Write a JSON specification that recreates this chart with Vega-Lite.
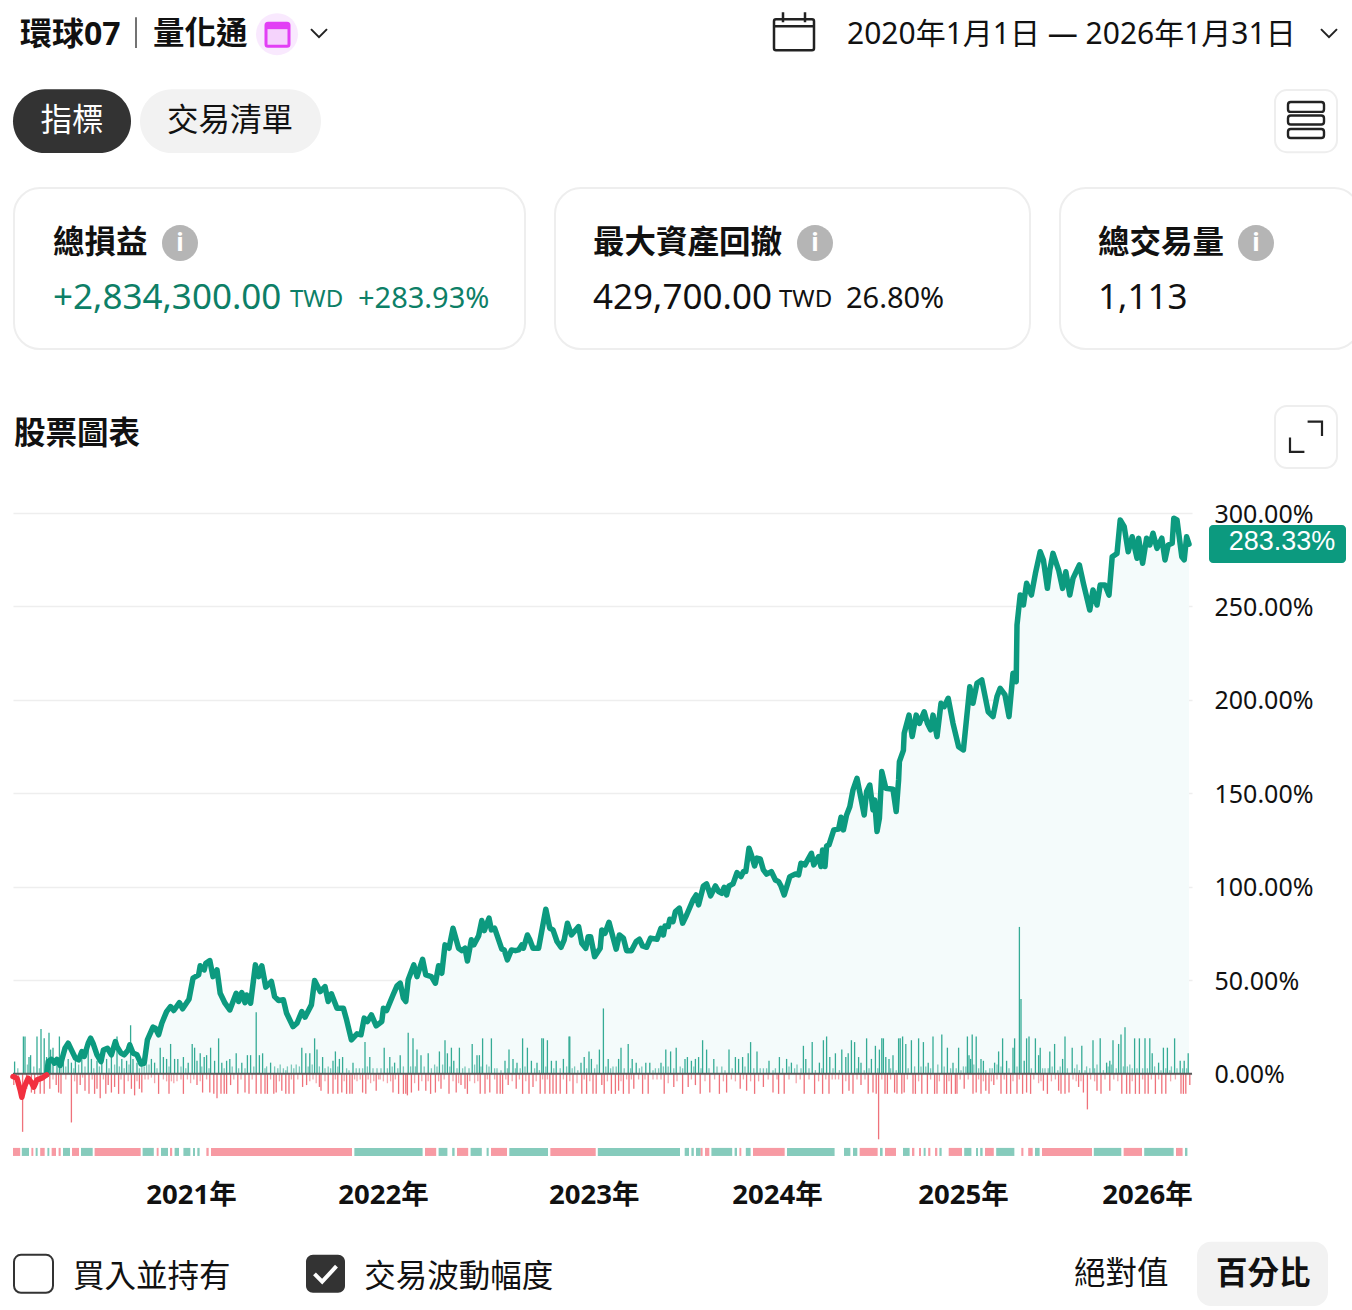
{
"$schema":"https://vega.github.io/schema/vega-lite/v6.json",
"autosize":"none",
"padding":{"left":13,"top":513,"right":160,"bottom":152},
"width":1179,"height":645,
"background":"white",
"config":{"view":{"stroke":null},"text":{"font":"Noto Sans, Noto Sans CJK TC","color":"#111111","align":"left","baseline":"middle"}},
"datasets":{
"equity":[{"s":0,"pct":-1.4},{"s":5,"pct":-2.3},{"s":9,"pct":-8.6},{"s":11,"pct":-12.5},{"s":14,"pct":-7.1},{"s":19,"pct":-2.3},{"s":23,"pct":-4.6},{"s":26,"pct":-7.1},{"s":30,"pct":-3.2},{"s":36,"pct":-2.3},{"s":42,"pct":-0.5},{"s":44,"pct":6.6},{"s":48,"pct":7.8},{"s":52,"pct":5.7},{"s":55,"pct":7.8},{"s":59,"pct":4.5},{"s":65,"pct":13.7},{"s":69,"pct":16.4},{"s":73,"pct":12.8},{"s":78,"pct":8.4},{"s":82,"pct":7.5},{"s":86,"pct":11.9},{"s":89,"pct":9.3},{"s":94,"pct":16.4},{"s":97,"pct":19.1},{"s":100,"pct":16.4},{"s":105,"pct":10.2},{"s":110,"pct":6.6},{"s":113,"pct":12.8},{"s":118,"pct":13.7},{"s":123,"pct":10.2},{"s":128,"pct":17.3},{"s":130,"pct":14.6},{"s":135,"pct":11.1},{"s":139,"pct":10.2},{"s":144,"pct":12.8},{"s":146,"pct":15.5},{"s":150,"pct":11.1},{"s":155,"pct":10.2},{"s":160,"pct":5.3},{"s":164,"pct":5.7},{"s":168,"pct":18.2},{"s":175,"pct":25},{"s":178,"pct":24.4},{"s":182,"pct":20.9},{"s":186,"pct":27.1},{"s":192,"pct":33.3},{"s":197,"pct":36},{"s":201,"pct":33.9},{"s":208,"pct":38.1},{"s":212,"pct":34.8},{"s":220,"pct":39.9},{"s":225,"pct":51.2},{"s":232,"pct":52.9},{"s":234,"pct":57.8},{"s":239,"pct":55.6},{"s":241,"pct":59.2},{"s":246,"pct":60.6},{"s":250,"pct":52},{"s":255,"pct":55.6},{"s":259,"pct":43.1},{"s":265,"pct":37.8},{"s":271,"pct":34.2},{"s":279,"pct":43.1},{"s":282,"pct":38.7},{"s":286,"pct":43.5},{"s":290,"pct":38.1},{"s":292,"pct":42.2},{"s":297,"pct":37.8},{"s":303,"pct":58.3},{"s":307,"pct":52},{"s":311,"pct":57.8},{"s":316,"pct":46.4},{"s":323,"pct":49.4},{"s":327,"pct":41.3},{"s":332,"pct":39.2},{"s":338,"pct":39.6},{"s":342,"pct":32.4},{"s":350,"pct":25.3},{"s":355,"pct":27.1},{"s":361,"pct":33.3},{"s":365,"pct":30.3},{"s":373,"pct":36.9},{"s":377,"pct":49.9},{"s":384,"pct":44},{"s":390,"pct":46.7},{"s":394,"pct":38.7},{"s":398,"pct":42.8},{"s":405,"pct":35.1},{"s":413,"pct":35.1},{"s":417,"pct":28.9},{"s":423,"pct":18.2},{"s":430,"pct":21.4},{"s":435,"pct":20.9},{"s":439,"pct":29.8},{"s":443,"pct":28},{"s":448,"pct":31.6},{"s":454,"pct":25.7},{"s":461,"pct":28},{"s":463,"pct":35.1},{"s":467,"pct":33.9},{"s":475,"pct":42.2},{"s":480,"pct":47.1},{"s":484,"pct":48.5},{"s":488,"pct":40.5},{"s":491,"pct":38.7},{"s":494,"pct":50.3},{"s":501,"pct":58.3},{"s":505,"pct":52},{"s":512,"pct":61.3},{"s":516,"pct":52.9},{"s":523,"pct":52},{"s":528,"pct":48.5},{"s":532,"pct":57.8},{"s":536,"pct":53.8},{"s":540,"pct":69},{"s":545,"pct":67.2},{"s":550,"pct":77.9},{"s":557,"pct":67.2},{"s":561,"pct":65.9},{"s":565,"pct":67.2},{"s":568,"pct":60.4},{"s":573,"pct":71.7},{"s":576,"pct":69},{"s":582,"pct":73.8},{"s":586,"pct":82},{"s":589,"pct":76.6},{"s":595,"pct":83.3},{"s":598,"pct":77},{"s":602,"pct":77.9},{"s":611,"pct":66.7},{"s":614,"pct":66.3},{"s":618,"pct":61},{"s":623,"pct":66.3},{"s":628,"pct":65.9},{"s":632,"pct":66.3},{"s":636,"pct":69},{"s":638,"pct":67.2},{"s":643,"pct":74.3},{"s":646,"pct":71.7},{"s":650,"pct":67.2},{"s":657,"pct":67.2},{"s":662,"pct":78.8},{"s":666,"pct":88.1},{"s":671,"pct":77.9},{"s":675,"pct":77},{"s":680,"pct":70.8},{"s":685,"pct":67.7},{"s":689,"pct":71.7},{"s":693,"pct":80.6},{"s":698,"pct":74.3},{"s":707,"pct":78.8},{"s":711,"pct":69.9},{"s":716,"pct":67.2},{"s":719,"pct":73.4},{"s":722,"pct":73.4},{"s":727,"pct":62.7},{"s":734,"pct":67.2},{"s":736,"pct":77},{"s":740,"pct":75.2},{"s":745,"pct":81.1},{"s":754,"pct":66.7},{"s":758,"pct":74.3},{"s":763,"pct":72.6},{"s":767,"pct":65.9},{"s":773,"pct":65.9},{"s":779,"pct":70.8},{"s":783,"pct":72},{"s":787,"pct":68.4},{"s":792,"pct":67.7},{"s":797,"pct":72.6},{"s":805,"pct":72},{"s":810,"pct":77.9},{"s":813,"pct":74.3},{"s":815,"pct":79.1},{"s":819,"pct":78.8},{"s":821,"pct":82.7},{"s":825,"pct":81.4},{"s":828,"pct":86.8},{"s":833,"pct":88.6},{"s":837,"pct":80.6},{"s":842,"pct":85},{"s":850,"pct":93},{"s":854,"pct":95.7},{"s":857,"pct":90.4},{"s":863,"pct":100.5},{"s":867,"pct":101.6},{"s":872,"pct":95.2},{"s":878,"pct":100.5},{"s":882,"pct":97.5},{"s":886,"pct":96.6},{"s":889,"pct":99.8},{"s":892,"pct":95.7},{"s":895,"pct":100.5},{"s":900,"pct":101.6},{"s":905,"pct":107.6},{"s":910,"pct":105.5},{"s":913,"pct":108.2},{"s":916,"pct":108.2},{"s":920,"pct":120.7},{"s":923,"pct":117.1},{"s":927,"pct":111.2},{"s":930,"pct":115.4},{"s":934,"pct":115},{"s":938,"pct":109.1},{"s":942,"pct":106.8},{"s":948,"pct":108.2},{"s":953,"pct":103.7},{"s":957,"pct":102.8},{"s":960,"pct":100.5},{"s":964,"pct":95.7},{"s":971,"pct":105.5},{"s":978,"pct":106.9},{"s":982,"pct":106.4},{"s":985,"pct":112.7},{"s":990,"pct":111.8},{"s":998,"pct":118},{"s":1001,"pct":111.8},{"s":1007,"pct":116.2},{"s":1010,"pct":110.9},{"s":1012,"pct":119.8},{"s":1015,"pct":110.9},{"s":1017,"pct":121.9},{"s":1020,"pct":122.5},{"s":1026,"pct":130.5},{"s":1032,"pct":130.9},{"s":1035,"pct":137.3},{"s":1038,"pct":130.5},{"s":1042,"pct":138.5},{"s":1046,"pct":142.9},{"s":1050,"pct":151.9},{"s":1055,"pct":158.1},{"s":1064,"pct":138.5},{"s":1067,"pct":151},{"s":1071,"pct":154.5},{"s":1075,"pct":141.2},{"s":1077,"pct":146.5},{"s":1080,"pct":129.6},{"s":1083,"pct":136.7},{"s":1086,"pct":161.7},{"s":1091,"pct":152.8},{"s":1100,"pct":152.2},{"s":1104,"pct":140.3},{"s":1107,"pct":157.2},{"s":1108,"pct":167},{"s":1113,"pct":173},{"s":1114,"pct":182.2},{"s":1120,"pct":191.9},{"s":1124,"pct":180.4},{"s":1129,"pct":191.9},{"s":1133,"pct":187.5},{"s":1139,"pct":193.7},{"s":1143,"pct":187.5},{"s":1147,"pct":184},{"s":1150,"pct":191.9},{"s":1155,"pct":180.4},{"s":1160,"pct":198.2},{"s":1164,"pct":196.4},{"s":1169,"pct":200.9},{"s":1175,"pct":187.5},{"s":1182,"pct":175},{"s":1188,"pct":173.3},{"s":1196,"pct":207.1},{"s":1200,"pct":198.2},{"s":1205,"pct":208.9},{"s":1211,"pct":210.7},{"s":1219,"pct":193.7},{"s":1225,"pct":191.1},{"s":1230,"pct":201.8},{"s":1234,"pct":206.2},{"s":1240,"pct":202.7},{"s":1245,"pct":191.1},{"s":1250,"pct":214.3},{"s":1254,"pct":209.8},{"s":1255,"pct":240.1},{"s":1259,"pct":256.1},{"s":1263,"pct":250.8},{"s":1267,"pct":262.4},{"s":1273,"pct":256.1},{"s":1278,"pct":267.7},{"s":1284,"pct":279.3},{"s":1288,"pct":274.9},{"s":1293,"pct":259.7},{"s":1296,"pct":269.5},{"s":1300,"pct":278.4},{"s":1307,"pct":269.5},{"s":1312,"pct":259.7},{"s":1316,"pct":268.6},{"s":1321,"pct":256.1},{"s":1325,"pct":265},{"s":1333,"pct":272.2},{"s":1338,"pct":262.4},{"s":1346,"pct":248.1},{"s":1350,"pct":258.8},{"s":1355,"pct":250.8},{"s":1359,"pct":261.5},{"s":1365,"pct":261.5},{"s":1370,"pct":256.1},{"s":1374,"pct":276.6},{"s":1380,"pct":278.4},{"s":1384,"pct":296.3},{"s":1389,"pct":292.7},{"s":1394,"pct":279.3},{"s":1399,"pct":287.3},{"s":1405,"pct":275.8},{"s":1407,"pct":286.5},{"s":1412,"pct":273.1},{"s":1417,"pct":286.5},{"s":1421,"pct":282.9},{"s":1425,"pct":289.2},{"s":1430,"pct":281.1},{"s":1436,"pct":286.5},{"s":1440,"pct":274.9},{"s":1444,"pct":282.9},{"s":1449,"pct":283.8},{"s":1451,"pct":297.2},{"s":1455,"pct":296.3},{"s":1461,"pct":276.6},{"s":1464,"pct":274.9},{"s":1467,"pct":287.3},{"s":1470,"pct":283.33}],
"trades":[{"s":2,"p":6.6},{"s":13,"p":20},{"s":15,"p":20},{"s":18,"p":5},{"s":20,"p":9},{"s":22,"p":10},{"s":30,"p":20},{"s":35,"p":24},{"s":39,"p":19},{"s":42,"p":9},{"s":45,"p":22},{"s":47,"p":13},{"s":50,"p":14},{"s":55,"p":8},{"s":58,"p":20},{"s":63,"p":12},{"s":69,"p":8},{"s":73,"p":6},{"s":78,"p":7},{"s":82,"p":5},{"s":86,"p":9},{"s":94,"p":15},{"s":98,"p":8},{"s":105,"p":7},{"s":111,"p":9},{"s":117,"p":8},{"s":123,"p":12},{"s":130,"p":20},{"s":136,"p":8},{"s":142,"p":7},{"s":147,"p":26},{"s":150,"p":8},{"s":155,"p":6},{"s":161,"p":5},{"s":167,"p":5},{"s":173,"p":8},{"s":177,"p":6},{"s":184,"p":14},{"s":188,"p":9},{"s":192,"p":8},{"s":197,"p":16},{"s":202,"p":8},{"s":206,"p":8},{"s":213,"p":9},{"s":219,"p":6},{"s":224,"p":16},{"s":227,"p":14},{"s":230,"p":7},{"s":234,"p":11},{"s":239,"p":9},{"s":242,"p":10},{"s":247,"p":14},{"s":252,"p":7},{"s":257,"p":19},{"s":261,"p":6},{"s":267,"p":7},{"s":271,"p":8},{"s":279,"p":11},{"s":286,"p":6},{"s":293,"p":10},{"s":297,"p":10},{"s":304,"p":33},{"s":308,"p":10},{"s":312,"p":11},{"s":317,"p":4},{"s":322,"p":6},{"s":327,"p":4},{"s":334,"p":5},{"s":338,"p":3},{"s":343,"p":4},{"s":348,"p":5},{"s":354,"p":5},
{"s":361,"p":14},{"s":366,"p":11},{"s":371,"p":11},{"s":377,"p":19},{"s":380,"p":13},{"s":387,"p":9},{"s":394,"p":4},{"s":400,"p":7},{"s":403,"p":12},{"s":408,"p":8},{"s":412,"p":9},{"s":417,"p":3},{"s":425,"p":6},{"s":433,"p":3},{"s":440,"p":17},{"s":446,"p":9},{"s":455,"p":3},{"s":464,"p":14},{"s":471,"p":9},{"s":477,"p":6},{"s":484,"p":10},{"s":494,"p":22},{"s":500,"p":19},{"s":505,"p":13},{"s":510,"p":10},{"s":519,"p":11},{"s":527,"p":5},{"s":533,"p":12},{"s":540,"p":18},{"s":543,"p":11},{"s":548,"p":14},{"s":551,"p":7},{"s":558,"p":14},{"s":565,"p":4},{"s":574,"p":16},{"s":580,"p":10},{"s":583,"p":10},{"s":587,"p":19},{"s":592,"p":5},{"s":598,"p":19},{"s":605,"p":3},{"s":615,"p":7},{"s":620,"p":13},{"s":625,"p":8},{"s":630,"p":6},{"s":637,"p":19},{"s":643,"p":14},{"s":648,"p":7},{"s":655,"p":6},{"s":661,"p":19},{"s":663,"p":19},{"s":668,"p":18},{"s":673,"p":7},{"s":679,"p":7},{"s":688,"p":8},{"s":695,"p":20},{"s":696,"p":20},{"s":702,"p":4},{"s":710,"p":6},{"s":714,"p":9},{"s":720,"p":12},{"s":723,"p":8},{"s":730,"p":5},{"s":733,"p":13},
{"s":738,"p":35},{"s":744,"p":8},{"s":750,"p":4},{"s":757,"p":8},{"s":760,"p":14},{"s":769,"p":16},{"s":774,"p":8},{"s":779,"p":6},{"s":786,"p":4},{"s":791,"p":6},{"s":796,"p":6},{"s":803,"p":3},{"s":810,"p":6},{"s":816,"p":13},{"s":822,"p":12},{"s":829,"p":14},{"s":834,"p":4},{"s":840,"p":8},{"s":843,"p":9},{"s":848,"p":7},{"s":853,"p":8},{"s":857,"p":9},{"s":862,"p":18},{"s":867,"p":13},{"s":876,"p":8},{"s":886,"p":4},{"s":895,"p":13},{"s":903,"p":9},{"s":907,"p":8},{"s":912,"p":9},{"s":919,"p":11},{"s":922,"p":17},{"s":930,"p":12},{"s":938,"p":3},{"s":945,"p":7},{"s":953,"p":3},{"s":958,"p":9},{"s":967,"p":8},{"s":973,"p":6},{"s":980,"p":5},{"s":988,"p":15},{"s":991,"p":8},{"s":999,"p":17},{"s":1008,"p":6},{"s":1013,"p":18},{"s":1017,"p":20},{"s":1021,"p":9},{"s":1028,"p":11},{"s":1036,"p":13},{"s":1041,"p":9},{"s":1044,"p":11},{"s":1048,"p":18},{"s":1052,"p":17},{"s":1057,"p":9},{"s":1060,"p":6},{"s":1067,"p":19},{"s":1073,"p":8},{"s":1078,"p":15},{"s":1083,"p":13},{"s":1086,"p":19},{"s":1088,"p":19},{"s":1091,"p":9},{"s":1095,"p":8},{"s":1100,"p":10},{"s":1107,"p":19},
{"s":1109,"p":19},{"s":1112,"p":20},{"s":1116,"p":16},{"s":1123,"p":18},{"s":1132,"p":19},{"s":1138,"p":17},{"s":1144,"p":6},{"s":1150,"p":20},{"s":1161,"p":21},{"s":1168,"p":14},{"s":1175,"p":6},{"s":1182,"p":14},{"s":1188,"p":4},{"s":1193,"p":20},{"s":1195,"p":10},{"s":1199,"p":21},{"s":1204,"p":20},{"s":1210,"p":8},{"s":1213,"p":7},{"s":1221,"p":3},{"s":1227,"p":6},{"s":1232,"p":12},{"s":1237,"p":19},{"s":1242,"p":7},{"s":1250,"p":14},{"s":1252,"p":19},{"s":1258,"p":78.6},{"s":1260,"p":40},{"s":1264,"p":7},{"s":1267,"p":19},{"s":1270,"p":20},{"s":1278,"p":19},{"s":1282,"p":10},{"s":1284,"p":14},{"s":1290,"p":3},{"s":1296,"p":12},{"s":1302,"p":16},{"s":1309,"p":4},{"s":1312,"p":8},{"s":1315,"p":20},{"s":1324,"p":14},{"s":1330,"p":5},{"s":1336,"p":15},{"s":1342,"p":4},{"s":1350,"p":18},{"s":1355,"p":5},{"s":1359,"p":19},{"s":1367,"p":6},{"s":1371,"p":7},{"s":1375,"p":18},{"s":1382,"p":16},{"s":1385,"p":21},{"s":1390,"p":25},{"s":1396,"p":5},{"s":1402,"p":19},{"s":1408,"p":19},{"s":1415,"p":19},{"s":1421,"p":19},{"s":1424,"p":11},{"s":1432,"p":6},{"s":1438,"p":14},{"s":1443,"p":14},{"s":1448,"p":4},{"s":1452,"p":19},{"s":1459,"p":7},{"s":1464,"p":7},{"s":1469,"p":11},
{"s":1,"p":-6},{"s":7,"p":-4},{"s":12,"p":-31},{"s":17,"p":-8},{"s":23,"p":-10},{"s":27,"p":-10.7},{"s":34,"p":-10.7},{"s":39,"p":-10.7},{"s":46,"p":-8},{"s":54,"p":-6},{"s":57,"p":-10},{"s":60,"p":-10.7},{"s":73,"p":-26},{"s":80,"p":-10.7},{"s":84,"p":-6},{"s":90,"p":-9},{"s":95,"p":-10.7},{"s":102,"p":-10.7},{"s":105,"p":-8},{"s":109,"p":-13},{"s":116,"p":-10.7},{"s":119,"p":-6},{"s":123,"p":-10},{"s":127,"p":-7},{"s":132,"p":-10.7},{"s":139,"p":-10.7},{"s":144,"p":-4},{"s":148,"p":-8},{"s":152,"p":-11.5},{"s":158,"p":-8},{"s":161,"p":-10},{"s":169,"p":-3},{"s":177,"p":-5},{"s":182,"p":-10.7},{"s":188,"p":-3},{"s":195,"p":-10.7},{"s":201,"p":-5},{"s":205,"p":-4},{"s":213,"p":-10.7},{"s":222,"p":-5},{"s":230,"p":-6},{"s":237,"p":-10},{"s":246,"p":-10},{"s":251,"p":-10.7},{"s":255,"p":-13},{"s":260,"p":-10.7},{"s":264,"p":-10.7},{"s":267,"p":-10.7},{"s":272,"p":-6},{"s":281,"p":-10.7},{"s":290,"p":-10},{"s":295,"p":-10.7},{"s":304,"p":-10.7},{"s":310,"p":-10.7},{"s":315,"p":-10.7},{"s":318,"p":-10.7},{"s":326,"p":-10.7},{"s":329,"p":-10},{"s":336,"p":-9},{"s":341,"p":-10.7},{"s":345,"p":-10.7},{"s":351,"p":-10.7},
{"s":362,"p":-7},{"s":367,"p":-6},{"s":375,"p":-3},{"s":383,"p":-7},{"s":385,"p":-9},{"s":394,"p":-10.7},{"s":400,"p":-10.7},{"s":406,"p":-10.7},{"s":411,"p":-10},{"s":417,"p":-10.7},{"s":421,"p":-10.7},{"s":424,"p":-10.7},{"s":430,"p":-4},{"s":437,"p":-10},{"s":441,"p":-10.7},{"s":447,"p":-5},{"s":454,"p":-9},{"s":459,"p":-3},{"s":468,"p":-5},{"s":475,"p":-10},{"s":482,"p":-10.7},{"s":488,"p":-10.7},{"s":491,"p":-10.7},{"s":493,"p":-11.5},{"s":498,"p":-10},{"s":507,"p":-9},{"s":516,"p":-9},{"s":522,"p":-10.7},{"s":528,"p":-10},{"s":535,"p":-8},{"s":545,"p":-10.7},{"s":554,"p":-10},{"s":560,"p":-6},{"s":565,"p":-8},{"s":568,"p":-10.7},{"s":577,"p":-5},{"s":584,"p":-10.7},{"s":590,"p":-10.7},{"s":596,"p":-10},{"s":605,"p":-10.7},{"s":609,"p":-10.7},{"s":612,"p":-10.7},{"s":619,"p":-6},{"s":629,"p":-8},{"s":637,"p":-10.7},{"s":645,"p":-10.7},{"s":650,"p":-7},{"s":659,"p":-10.7},{"s":665,"p":-10.7},{"s":671,"p":-10.7},{"s":675,"p":-10.7},{"s":679,"p":-10.7},{"s":684,"p":-10.7},{"s":692,"p":-10.7},{"s":700,"p":-10.7},{"s":711,"p":-10.7},{"s":717,"p":-10.7},{"s":725,"p":-10.7},{"s":729,"p":-10.7},
{"s":736,"p":-6},{"s":739,"p":-10.7},{"s":748,"p":-10.7},{"s":753,"p":-10.7},{"s":757,"p":-9},{"s":763,"p":-10.7},{"s":770,"p":-10.7},{"s":776,"p":-8},{"s":787,"p":-10.7},{"s":794,"p":-10.7},{"s":805,"p":-3},{"s":814,"p":-10.7},{"s":819,"p":-5},{"s":826,"p":-7},{"s":837,"p":-10.7},{"s":844,"p":-7},{"s":853,"p":-6},{"s":859,"p":-10.7},{"s":871,"p":-10},{"s":883,"p":-10.7},{"s":892,"p":-10},{"s":898,"p":-3},{"s":909,"p":-8},{"s":917,"p":-9},{"s":927,"p":-10.7},{"s":938,"p":-7},{"s":950,"p":-10},{"s":957,"p":-10.7},{"s":964,"p":-10.7},{"s":979,"p":-5},{"s":989,"p":-10.7},{"s":1002,"p":-10.7},{"s":1012,"p":-10.7},{"s":1020,"p":-10.7},{"s":1028,"p":-3},{"s":1037,"p":-10.7},{"s":1045,"p":-9},{"s":1050,"p":-10.7},{"s":1060,"p":-6},{"s":1069,"p":-10.7},{"s":1075,"p":-10},{"s":1079,"p":-10.7},{"s":1082,"p":-35},{"s":1090,"p":-10.7},{"s":1093,"p":-10.7},{"s":1102,"p":-10},{"s":1105,"p":-10.7},
{"s":1111,"p":-10.7},{"s":1114,"p":-10},{"s":1125,"p":-10.7},{"s":1128,"p":-10.7},{"s":1136,"p":-10.7},{"s":1143,"p":-10.7},{"s":1152,"p":-10.7},{"s":1155,"p":-10.7},{"s":1164,"p":-10.7},{"s":1167,"p":-10.7},{"s":1173,"p":-10.7},{"s":1178,"p":-10.7},{"s":1180,"p":-10.7},{"s":1189,"p":-8},{"s":1200,"p":-10.7},{"s":1204,"p":-10},{"s":1210,"p":-10.7},{"s":1216,"p":-9},{"s":1220,"p":-10.7},{"s":1226,"p":-6},{"s":1235,"p":-10.7},{"s":1242,"p":-10.7},{"s":1247,"p":-10.7},{"s":1255,"p":-10.7},{"s":1262,"p":-10.7},{"s":1267,"p":-10},{"s":1272,"p":-10.7},{"s":1282,"p":-5},{"s":1288,"p":-9},{"s":1293,"p":-10.7},{"s":1307,"p":-9},{"s":1310,"p":-10.7},{"s":1315,"p":-10.7},{"s":1320,"p":-10},{"s":1332,"p":-7},{"s":1338,"p":-10},{"s":1343,"p":-19},{"s":1355,"p":-9},{"s":1360,"p":-10.7},{"s":1371,"p":-9},{"s":1386,"p":-10.7},{"s":1392,"p":-10.7},{"s":1396,"p":-10.7},{"s":1403,"p":-10.7},{"s":1408,"p":-10.7},{"s":1415,"p":-10.7},{"s":1419,"p":-10.7},{"s":1428,"p":-10.7},{"s":1436,"p":-10.7},{"s":1441,"p":-10.7},{"s":1460,"p":-10.7},{"s":1463,"p":-10.7},{"s":1466,"p":-10.7},{"s":1471,"p":-6},
{"s":6,"p":3},{"s":26,"p":4},{"s":33,"p":3},{"s":60,"p":5},{"s":66,"p":4},{"s":76,"p":3},{"s":90,"p":4},{"s":101,"p":3},{"s":108,"p":4},{"s":120,"p":3},{"s":127,"p":5},{"s":133,"p":4},{"s":139,"p":3},{"s":145,"p":5},{"s":158,"p":3},{"s":164,"p":4},{"s":170,"p":5},{"s":180,"p":3},{"s":195,"p":4},{"s":210,"p":4},{"s":216,"p":3},{"s":236,"p":4},{"s":245,"p":3},{"s":264,"p":3},{"s":274,"p":4},{"s":282,"p":3},{"s":290,"p":3},{"s":301,"p":4},{"s":315,"p":3},{"s":331,"p":3},{"s":341,"p":2},{"s":351,"p":3},{"s":358,"p":4},{"s":369,"p":4},{"s":374,"p":5},{"s":383,"p":4},{"s":390,"p":3},{"s":397,"p":3},{"s":406,"p":4},{"s":420,"p":2},{"s":429,"p":3},{"s":437,"p":3},{"s":443,"p":4},{"s":450,"p":3},{"s":460,"p":3},{"s":468,"p":3},{"s":474,"p":4},{"s":481,"p":3},{"s":488,"p":4},{"s":497,"p":4},{"s":503,"p":4},{"s":514,"p":4},{"s":523,"p":3},{"s":530,"p":4},{"s":537,"p":5},{"s":546,"p":4},{"s":555,"p":3},{"s":562,"p":3},{"s":570,"p":3},{"s":577,"p":5},{"s":585,"p":4},{"s":595,"p":4},{"s":602,"p":3},{"s":610,"p":2},{"s":618,"p":3},{"s":628,"p":3},{"s":634,"p":3},{"s":640,"p":4},{"s":652,"p":3},{"s":658,"p":2},{"s":666,"p":4},{"s":676,"p":3},{"s":684,"p":3},{"s":692,"p":4},{"s":699,"p":3},{"s":706,"p":2},{"s":717,"p":3},{"s":727,"p":3},{"s":741,"p":4},{"s":747,"p":3},{"s":754,"p":4},{"s":764,"p":3},{"s":772,"p":3},{"s":783,"p":3},{"s":800,"p":2},{"s":807,"p":3},{"s":813,"p":4},{"s":819,"p":4},{"s":826,"p":3},{"s":837,"p":3},{"s":851,"p":4},{"s":860,"p":3},{"s":870,"p":3},{"s":880,"p":4},{"s":890,"p":2},{"s":899,"p":3},{"s":915,"p":4},{"s":926,"p":3},{"s":934,"p":3},{"s":942,"p":3},{"s":950,"p":2},{"s":962,"p":3},{"s":970,"p":4},{"s":977,"p":3},{"s":985,"p":3},{"s":995,"p":3},{"s":1003,"p":2},{"s":1011,"p":3},{"s":1025,"p":3},{"s":1033,"p":2},{"s":1055,"p":3},{"s":1064,"p":2},{"s":1070,"p":3},{"s":1081,"p":3},{"s":1097,"p":3},{"s":1104,"p":2},{"s":1119,"p":3},{"s":1127,"p":4},{"s":1135,"p":4},{"s":1141,"p":4},{"s":1147,"p":3},{"s":1156,"p":5},{"s":1164,"p":4},{"s":1172,"p":3},{"s":1179,"p":3},{"s":1185,"p":2},{"s":1191,"p":4},{"s":1197,"p":8},{"s":1201,"p":5},{"s":1207,"p":3},{"s":1216,"p":2},{"s":1224,"p":3},{"s":1230,"p":5},{"s":1235,"p":4},{"s":1245,"p":3},{"s":1255,"p":4},{"s":1273,"p":3},{"s":1287,"p":3},{"s":1294,"p":3},{"s":1299,"p":4},{"s":1306,"p":2},{"s":1318,"p":3},{"s":1327,"p":3},{"s":1333,"p":2},{"s":1340,"p":2},{"s":1346,"p":3},{"s":1352,"p":3},{"s":1363,"p":2},{"s":1369,"p":4},{"s":1373,"p":5},{"s":1379,"p":3},{"s":1388,"p":4},{"s":1393,"p":4},{"s":1399,"p":3},{"s":1405,"p":3},{"s":1412,"p":3},{"s":1418,"p":3},{"s":1427,"p":4},{"s":1435,"p":2},{"s":1441,"p":3},{"s":1446,"p":2},{"s":1455,"p":3},{"s":1462,"p":3},{"s":1467,"p":3},
{"s":4,"p":-3},{"s":31,"p":-4},{"s":50,"p":-3},{"s":66,"p":-3},{"s":77,"p":-4},{"s":87,"p":-2},{"s":99,"p":-3},{"s":113,"p":-3},{"s":135,"p":-3},{"s":155,"p":-4},{"s":165,"p":-3},{"s":173,"p":-2},{"s":192,"p":-4},{"s":198,"p":-4},{"s":210,"p":-3},{"s":218,"p":-3},{"s":226,"p":-3},{"s":234,"p":-4},{"s":242,"p":-3},{"s":276,"p":-3},{"s":285,"p":-3},{"s":299,"p":-3},{"s":322,"p":-3},{"s":333,"p":-4},{"s":348,"p":-3},{"s":356,"p":-3},{"s":371,"p":-4},{"s":379,"p":-5},{"s":390,"p":-4},{"s":403,"p":-3},{"s":414,"p":-4},{"s":427,"p":-3},{"s":434,"p":-3},{"s":444,"p":-3},{"s":451,"p":-4},{"s":457,"p":-3},{"s":463,"p":-4},{"s":472,"p":-4},{"s":478,"p":-3},{"s":502,"p":-5},{"s":511,"p":-4},{"s":519,"p":-4},{"s":532,"p":-4},{"s":539,"p":-3},{"s":550,"p":-4},{"s":557,"p":-5},{"s":571,"p":-4},{"s":581,"p":-4},{"s":593,"p":-3},{"s":602,"p":-3},{"s":616,"p":-3},{"s":624,"p":-4},{"s":633,"p":-3},{"s":641,"p":-4},{"s":654,"p":-4},{"s":662,"p":-3},{"s":668,"p":-3},{"s":688,"p":-3},{"s":696,"p":-4},{"s":705,"p":-5},{"s":714,"p":-3},{"s":721,"p":-4},{"s":743,"p":-4},{"s":760,"p":-4},{"s":767,"p":-3},{"s":773,"p":-3},{"s":782,"p":-3},{"s":790,"p":-3},{"s":800,"p":-3},{"s":810,"p":-3},{"s":830,"p":-4},{"s":848,"p":-3},{"s":865,"p":-4},{"s":877,"p":-3},{"s":888,"p":-4},{"s":903,"p":-4},{"s":913,"p":-3},{"s":922,"p":-4},{"s":932,"p":-4},{"s":944,"p":-3},{"s":955,"p":-3},{"s":970,"p":-3},{"s":984,"p":-3},{"s":995,"p":-3},{"s":1007,"p":-4},{"s":1016,"p":-3},{"s":1024,"p":-3},{"s":1032,"p":-3},{"s":1041,"p":-4},{"s":1055,"p":-3},{"s":1065,"p":-3},{"s":1086,"p":-3},{"s":1097,"p":-3},{"s":1118,"p":-3},{"s":1132,"p":-4},{"s":1147,"p":-3},{"s":1158,"p":-4},{"s":1170,"p":-4},{"s":1184,"p":-3},{"s":1194,"p":-3},{"s":1207,"p":-3},{"s":1213,"p":-4},{"s":1223,"p":-4},{"s":1230,"p":-3},{"s":1239,"p":-3},{"s":1250,"p":-4},{"s":1258,"p":-3},{"s":1276,"p":-3},{"s":1285,"p":-4},{"s":1298,"p":-4},{"s":1303,"p":-3},{"s":1325,"p":-3},{"s":1329,"p":-4},{"s":1335,"p":-4},{"s":1347,"p":-3},{"s":1352,"p":-4},{"s":1365,"p":-3},{"s":1376,"p":-3},{"s":1381,"p":-4},{"s":1399,"p":-4},{"s":1412,"p":-3},{"s":1423,"p":-3},{"s":1432,"p":-3},{"s":1447,"p":-4},{"s":1453,"p":-3}],
"strip":[{"a":0,"b":9,"r":"loss"},{"a":11,"b":20,"r":"win"},{"a":23,"b":25.4,"r":"loss"},{"a":28.3,"b":30.8,"r":"win"},{"a":34,"b":39.6,"r":"loss"},{"a":43,"b":45.4,"r":"win"},{"a":48.3,"b":53.75,"r":"loss"},{"a":57,"b":59.6,"r":"loss"},{"a":62.5,"b":71.25,"r":"win"},{"a":73.75,"b":82.5,"r":"loss"},{"a":85,"b":99.6,"r":"win"},{"a":102,"b":159.6,"r":"loss"},{"a":162,"b":176,"r":"win"},{"a":179.6,"b":182,"r":"loss"},{"a":185,"b":193.75,"r":"win"},{"a":196.25,"b":199,"r":"loss"},{"a":202,"b":207.5,"r":"win"},{"a":213,"b":221.7,"r":"win"},{"a":225,"b":227.5,"r":"win"},{"a":230.4,"b":233.3,"r":"win"},{"a":241.7,"b":244.6,"r":"loss"},{"a":247.5,"b":423.75,"r":"loss"},{"a":426.7,"b":512,"r":"win"},{"a":515,"b":529,"r":"loss"},{"a":532,"b":543,"r":"win"},{"a":549,"b":552,"r":"win"},{"a":555,"b":569,"r":"loss"},{"a":572,"b":586,"r":"win"},{"a":592,"b":594.6,"r":"win"},{"a":597.5,"b":617.5,"r":"loss"},{"a":620.4,"b":668.75,"r":"win"},{"a":671.7,"b":728.4,"r":"loss"},{"a":731,"b":833.75,"r":"win"},{"a":839.6,"b":845,"r":"win"},{"a":848,"b":851,"r":"win"},{"a":853.75,"b":859.6,"r":"win"},{"a":859.6,"b":862,"r":"loss"},{"a":865,"b":870.4,"r":"loss"},{"a":873,"b":899,"r":"win"},{"a":902,"b":905,"r":"win"},{"a":908,"b":910.4,"r":"loss"},{"a":916,"b":922,"r":"win"},{"a":925,"b":964.6,"r":"loss"},{"a":967.5,"b":1027,"r":"win"},{"a":1038.75,"b":1046.7,"r":"win"},{"a":1050,"b":1055.4,"r":"win"},{"a":1058.3,"b":1080.8,"r":"loss"},{"a":1083.75,"b":1087,"r":"win"},{"a":1090,"b":1103.75,"r":"loss"},{"a":1112.5,"b":1120.8,"r":"win"},{"a":1123.75,"b":1126.7,"r":"loss"},{"a":1132.5,"b":1135,"r":"loss"},{"a":1138.3,"b":1140.8,"r":"win"},{"a":1144,"b":1146.7,"r":"loss"},{"a":1152.5,"b":1155.4,"r":"loss"},{"a":1158,"b":1160.8,"r":"win"},{"a":1169.6,"b":1186.25,"r":"loss"},{"a":1189,"b":1198,"r":"win"},{"a":1203.75,"b":1206.25,"r":"win"},{"a":1209,"b":1212,"r":"win"},{"a":1215,"b":1226,"r":"loss"},{"a":1229,"b":1251.7,"r":"win"},{"a":1260.4,"b":1263,"r":"loss"},{"a":1269,"b":1274.6,"r":"loss"},{"a":1277.5,"b":1283.3,"r":"win"},{"a":1286.25,"b":1348.75,"r":"loss"},{"a":1351,"b":1385.4,"r":"win"},{"a":1388.3,"b":1411.25,"r":"loss"},{"a":1414,"b":1450.8,"r":"win"},{"a":1453.75,"b":1462,"r":"loss"},{"a":1465,"b":1468,"r":"win"}]
},
"layer":[
{"data":{"name":"equity"},"transform":[{"filter":"datum.s>=42"}],"mark":{"type":"area","color":"#f4fbfb"},
 "encoding":{
  "x":{"field":"s","type":"quantitative","scale":{"domain":[0,1473.75],"nice":false,"zero":false},
   "axis":{"title":null,"grid":false,"domain":false,"ticks":false,"labelPadding":23,"labelFont":"Noto Sans, Noto Sans CJK TC","labelFontSize":27.5,"labelFontWeight":"bold","labelColor":"#111111","labelOverlap":false,"labelBound":false,"labelFlush":false,"values":[222.5,462.5,726,955,1187.5,1417.5],
    "labelExpr":"datum.value<300?'2021年':datum.value<500?'2022年':datum.value<800?'2023年':datum.value<1000?'2024年':datum.value<1200?'2025年':'2026年'"}},
  "y":{"field":"pct","type":"quantitative","stack":null,"scale":{"domain":[-45,300],"nice":false,"zero":false},
   "axis":{"title":null,"orient":"right","domain":false,"ticks":false,"grid":true,"gridColor":"#eeeeee","gridWidth":1.5,"values":[0,50,100,150,200,250,300],"labelPadding":22,"labelOffset":1,"labelFont":"Noto Sans","labelFontSize":25,"labelColor":"#111111","labelOverlap":false,"labelBound":false,"labelFlush":false,"labelExpr":"format(datum.value,'.2f')+'%'"}}}},
{"data":{"name":"trades"},"mark":{"type":"rule","strokeWidth":1.3},
 "encoding":{"x":{"field":"s","type":"quantitative"},"y":{"field":"p","type":"quantitative"},"y2":{"datum":0},
  "color":{"condition":{"test":"datum.p>0","value":"#2aa78f"},"value":"#ee6a74"},
  "opacity":{"condition":{"test":"abs(datum.p)<6","value":0.6},"value":0.95}}},
{"data":{"values":[{"base":0}]},"mark":{"type":"rule","color":"#5a5a5a","strokeWidth":2},"encoding":{"y":{"field":"base","type":"quantitative"}}},
{"data":{"name":"strip"},"mark":{"type":"rect"},
 "encoding":{"x":{"field":"a","type":"quantitative"},"x2":{"field":"b"},"y":{"datum":-39.6},"y2":{"datum":-43.9},
  "color":{"field":"r","type":"nominal","legend":null,"scale":{"domain":["win","loss"],"range":["#86cbbc","#f79aa3"]}}}},
{"data":{"name":"equity"},"transform":[{"filter":"datum.s>=42"}],"mark":{"type":"line","color":"#0c9a7f","strokeWidth":5.5,"strokeJoin":"round","strokeCap":"round"},"encoding":{"x":{"field":"s","type":"quantitative"},"y":{"field":"pct","type":"quantitative"}}},
{"data":{"name":"equity"},"transform":[{"filter":"datum.s<=42"}],"mark":{"type":"line","color":"#f2303f","strokeWidth":5.5,"strokeJoin":"round","strokeCap":"round"},"encoding":{"x":{"field":"s","type":"quantitative"},"y":{"field":"pct","type":"quantitative"}}},
{"data":{"values":[{"last":283.33}]},"mark":{"type":"rect","color":"#0c9a7f","cornerRadius":4},"encoding":{"x":{"datum":1495},"x2":{"datum":1666.25},"y":{"datum":293.6},"y2":{"datum":273.3}}},
{"data":{"values":[{"last":"283.33%"}]},"mark":{"type":"text","font":"Liberation Sans","fontSize":27,"color":"white","align":"center"},"encoding":{"x":{"datum":1586.25},"y":{"datum":284.5},"text":{"field":"last"}}},

{"data":{"values":[{"t":"環球07"}]},"mark":{"type":"text","fontSize":32,"fontWeight":"bold"},"encoding":{"x":{"datum":8.75},"y":{"datum":555.6},"text":{"field":"t"}}},
{"data":{"values":[{"t":"sep"}]},"mark":{"type":"rule","color":"#444444","strokeWidth":1.5},"encoding":{"x":{"datum":153.75},"y":{"datum":565.2},"y2":{"datum":548.7}}},
{"data":{"values":[{"t":"量化通"}]},"mark":{"type":"text","fontSize":31.5,"fontWeight":"bold"},"encoding":{"x":{"datum":175},"y":{"datum":555.6},"text":{"field":"t"}}},
{"data":{"values":[{"t":"badge"}]},"mark":{"type":"point","shape":"circle","filled":true,"size":1764,"color":"#f9e9fe","opacity":1},"encoding":{"x":{"datum":330},"y":{"datum":556.1}}},
{"data":{"values":[{"t":"cal"}]},"mark":{"type":"rect","fill":"#f5d3fc","stroke":"#e23ff5","strokeWidth":3,"cornerRadius":2},"encoding":{"x":{"datum":316.25},"x2":{"datum":345},"y":{"datum":562},"y2":{"datum":549.7}}},
{"data":{"values":[{"t":"calhead"}]},"mark":{"type":"rect","fill":"#e23ff5"},"encoding":{"x":{"datum":316.25},"x2":{"datum":345},"y":{"datum":562},"y2":{"datum":558.8}}},
{"data":{"values":[{"t":"chevron"}]},"mark":{"type":"point","shape":"M-1,-0.5L0,0.5L1,-0.5","size":256,"filled":false,"stroke":"#222222","strokeWidth":2,"opacity":1},"encoding":{"x":{"datum":382.5},"y":{"datum":556.7}}},
{"data":{"values":[{"t":"chevron"}]},"mark":{"type":"point","shape":"M-1,-0.5L0,0.5L1,-0.5","size":256,"filled":false,"stroke":"#222222","strokeWidth":2,"opacity":1},"encoding":{"x":{"datum":1645},"y":{"datum":556.7}}},
{"data":{"values":[{"t":"date"}]},"mark":{"type":"point","shape":"M-0.9,-0.65L0.9,-0.65Q1,-0.65 1,-0.55L1,0.8Q1,0.9 0.9,0.9L-0.9,0.9Q-1,0.9 -1,0.8L-1,-0.55Q-1,-0.65 -0.9,-0.65M-1,-0.3L1,-0.3M-0.55,-1L-0.55,-0.5M0.55,-1L0.55,-0.5","size":1600,"filled":false,"stroke":"#222222","strokeWidth":2.5,"opacity":1},"encoding":{"x":{"datum":976.25},"y":{"datum":557.2}}},
{"data":{"values":[{"t":"2020年1月1日 — 2026年1月31日"}]},"mark":{"type":"text","fontSize":30},"encoding":{"x":{"datum":1042.5},"y":{"datum":555.6},"text":{"field":"t"}}},

{"data":{"values":[{"t":"pill"}]},"mark":{"type":"rect","fill":"#333333","cornerRadius":32},"encoding":{"x":{"datum":0},"x2":{"datum":147.5},"y":{"datum":526.7},"y2":{"datum":492.5}}},
{"data":{"values":[{"t":"指標"}]},"mark":{"type":"text","fontSize":31.5,"color":"white","align":"center"},"encoding":{"x":{"datum":73.75},"y":{"datum":509.1},"text":{"field":"t"}}},
{"data":{"values":[{"t":"pill"}]},"mark":{"type":"rect","fill":"#f2f2f2","cornerRadius":32},"encoding":{"x":{"datum":158.75},"x2":{"datum":385},"y":{"datum":526.7},"y2":{"datum":492.5}}},
{"data":{"values":[{"t":"交易清單"}]},"mark":{"type":"text","fontSize":31.5,"align":"center"},"encoding":{"x":{"datum":271.25},"y":{"datum":509.1},"text":{"field":"t"}}},
{"data":{"values":[{"t":"btn"}]},"mark":{"type":"rect","fill":"white","stroke":"#eeeeee","strokeWidth":2,"cornerRadius":12},"encoding":{"x":{"datum":1577.5},"x2":{"datum":1655},"y":{"datum":526.2},"y2":{"datum":493}}},
{"data":{"values":[{"t":"menu"}]},"mark":{"type":"point","shape":"M-0.85,-1L0.85,-1Q1,-1 1,-0.85L1,-0.6Q1,-0.45 0.85,-0.45L-0.85,-0.45Q-1,-0.45 -1,-0.6L-1,-0.85Q-1,-1 -0.85,-1ZM-0.85,-0.25L0.85,-0.25Q1,-0.25 1,-0.1L1,0.1Q1,0.25 0.85,0.25L-0.85,0.25Q-1,0.25 -1,0.1L-1,-0.1Q-1,-0.25 -0.85,-0.25ZM-0.85,0.5L0.85,0.5Q1,0.5 1,0.65L1,0.85Q1,1 0.85,1L-0.85,1Q-1,1 -1,0.85L-1,0.65Q-1,0.5 -0.85,0.5Z","size":1296,"filled":false,"stroke":"#222222","strokeWidth":2.4,"opacity":1},"encoding":{"x":{"datum":1616.25},"y":{"datum":510.2}}},

{"data":{"values":[{"t":"card"}]},"mark":{"type":"rect","fill":"white","stroke":"#eeeeee","strokeWidth":2,"cornerRadius":26},"encoding":{"x":{"datum":1.25},"x2":{"datum":640},"y":{"datum":473.8},"y2":{"datum":387.7}}},
{"data":{"values":[{"t":"card"}]},"mark":{"type":"rect","fill":"white","stroke":"#eeeeee","strokeWidth":2,"cornerRadius":26},"encoding":{"x":{"datum":677.5},"x2":{"datum":1271.25},"y":{"datum":473.8},"y2":{"datum":387.7}}},
{"data":{"values":[{"t":"card"}]},"mark":{"type":"rect","fill":"white","stroke":"#eeeeee","strokeWidth":2,"cornerRadius":26},"encoding":{"x":{"datum":1308.75},"x2":{"datum":1683.75},"y":{"datum":473.8},"y2":{"datum":387.7}}},
{"data":{"values":[{"t":"總損益"}]},"mark":{"type":"text","fontSize":31.5,"fontWeight":"bold"},"encoding":{"x":{"datum":50},"y":{"datum":443.8},"text":{"field":"t"}}},
{"data":{"values":[{"t":"最大資產回撤"}]},"mark":{"type":"text","fontSize":31.5,"fontWeight":"bold"},"encoding":{"x":{"datum":725},"y":{"datum":443.8},"text":{"field":"t"}}},
{"data":{"values":[{"t":"總交易量"}]},"mark":{"type":"text","fontSize":31.5,"fontWeight":"bold"},"encoding":{"x":{"datum":1356.25},"y":{"datum":443.8},"text":{"field":"t"}}},
{"data":{"values":[{"t":"info"}]},"mark":{"type":"point","shape":"circle","filled":true,"size":1296,"color":"#b5b5b5","opacity":1},"encoding":{"x":{"datum":208.75},"y":{"datum":444.4}}},
{"data":{"values":[{"t":"info"}]},"mark":{"type":"point","shape":"circle","filled":true,"size":1296,"color":"#b5b5b5","opacity":1},"encoding":{"x":{"datum":1002.5},"y":{"datum":444.4}}},
{"data":{"values":[{"t":"info"}]},"mark":{"type":"point","shape":"circle","filled":true,"size":1296,"color":"#b5b5b5","opacity":1},"encoding":{"x":{"datum":1553.75},"y":{"datum":444.4}}},
{"data":{"values":[{"t":"i"}]},"mark":{"type":"text","fontSize":25,"fontWeight":"bold","color":"white","align":"center"},"encoding":{"x":{"datum":208.75},"y":{"datum":444.4},"text":{"field":"t"}}},
{"data":{"values":[{"t":"i"}]},"mark":{"type":"text","fontSize":25,"fontWeight":"bold","color":"white","align":"center"},"encoding":{"x":{"datum":1002.5},"y":{"datum":444.4},"text":{"field":"t"}}},
{"data":{"values":[{"t":"i"}]},"mark":{"type":"text","fontSize":25,"fontWeight":"bold","color":"white","align":"center"},"encoding":{"x":{"datum":1553.75},"y":{"datum":444.4},"text":{"field":"t"}}},
{"data":{"values":[{"t":"+2,834,300.00"}]},"mark":{"type":"text","fontSize":35,"color":"#0d7f67"},"encoding":{"x":{"datum":50},"y":{"datum":415},"text":{"field":"t"}}},
{"data":{"values":[{"t":"TWD"}]},"mark":{"type":"text","fontSize":24,"color":"#0d7f67"},"encoding":{"x":{"datum":346.25},"y":{"datum":414},"text":{"field":"t"}}},
{"data":{"values":[{"t":"+283.93%"}]},"mark":{"type":"text","fontSize":29,"color":"#0d7f67"},"encoding":{"x":{"datum":431.25},"y":{"datum":414.5},"text":{"field":"t"}}},
{"data":{"values":[{"t":"429,700.00"}]},"mark":{"type":"text","fontSize":35},"encoding":{"x":{"datum":725},"y":{"datum":415},"text":{"field":"t"}}},
{"data":{"values":[{"t":"TWD"}]},"mark":{"type":"text","fontSize":24},"encoding":{"x":{"datum":957.5},"y":{"datum":414},"text":{"field":"t"}}},
{"data":{"values":[{"t":"26.80%"}]},"mark":{"type":"text","fontSize":29},"encoding":{"x":{"datum":1041.25},"y":{"datum":414.5},"text":{"field":"t"}}},
{"data":{"values":[{"t":"1,113"}]},"mark":{"type":"text","fontSize":35},"encoding":{"x":{"datum":1356.25},"y":{"datum":415},"text":{"field":"t"}}},

{"data":{"values":[{"t":"股票圖表"}]},"mark":{"type":"text","fontSize":31.5,"fontWeight":"bold"},"encoding":{"x":{"datum":1.25},"y":{"datum":341.7},"text":{"field":"t"}}},
{"data":{"values":[{"t":"btn"}]},"mark":{"type":"rect","fill":"white","stroke":"#eeeeee","strokeWidth":2,"cornerRadius":12},"encoding":{"x":{"datum":1577.5},"x2":{"datum":1655},"y":{"datum":357.2},"y2":{"datum":324.1}}},
{"data":{"values":[{"t":"expand"}]},"mark":{"type":"point","shape":"M0.1,-0.9L1,-0.9L1,0M-1,0.1L-1,1L-0.1,1","size":1024,"filled":false,"stroke":"#222222","strokeWidth":2.2,"opacity":1},"encoding":{"x":{"datum":1616.25},"y":{"datum":341.2}}},

{"data":{"values":[{"t":"box"}]},"mark":{"type":"rect","fill":"white","stroke":"#333333","strokeWidth":2,"cornerRadius":7},"encoding":{"x":{"datum":1.25},"x2":{"datum":50},"y":{"datum":-96.8},"y2":{"datum":-117.1}}},
{"data":{"values":[{"t":"買入並持有"}]},"mark":{"type":"text","fontSize":31.5},"encoding":{"x":{"datum":75},"y":{"datum":-109.1},"text":{"field":"t"}}},
{"data":{"values":[{"t":"box"}]},"mark":{"type":"rect","fill":"#333333","cornerRadius":7},"encoding":{"x":{"datum":366.25},"x2":{"datum":415},"y":{"datum":-96.8},"y2":{"datum":-117.1}}},
{"data":{"values":[{"t":"check"}]},"mark":{"type":"point","shape":"M-1,0L-0.3,0.7L1,-0.7","size":484,"filled":false,"stroke":"white","strokeWidth":4,"opacity":1},"encoding":{"x":{"datum":390.6},"y":{"datum":-107}}},
{"data":{"values":[{"t":"交易波動幅度"}]},"mark":{"type":"text","fontSize":31.5},"encoding":{"x":{"datum":439},"y":{"datum":-109.1},"text":{"field":"t"}}},
{"data":{"values":[{"t":"絕對值"}]},"mark":{"type":"text","fontSize":31.5},"encoding":{"x":{"datum":1326.25},"y":{"datum":-107.8},"text":{"field":"t"}}},
{"data":{"values":[{"t":"pill"}]},"mark":{"type":"rect","fill":"#f2f2f2","cornerRadius":14},"encoding":{"x":{"datum":1480},"x2":{"datum":1643.75},"y":{"datum":-89.8},"y2":{"datum":-124.1}}},
{"data":{"values":[{"t":"百分比"}]},"mark":{"type":"text","fontSize":31.5,"fontWeight":"bold"},"encoding":{"x":{"datum":1503.75},"y":{"datum":-107.8},"text":{"field":"t"}}}
]
}
